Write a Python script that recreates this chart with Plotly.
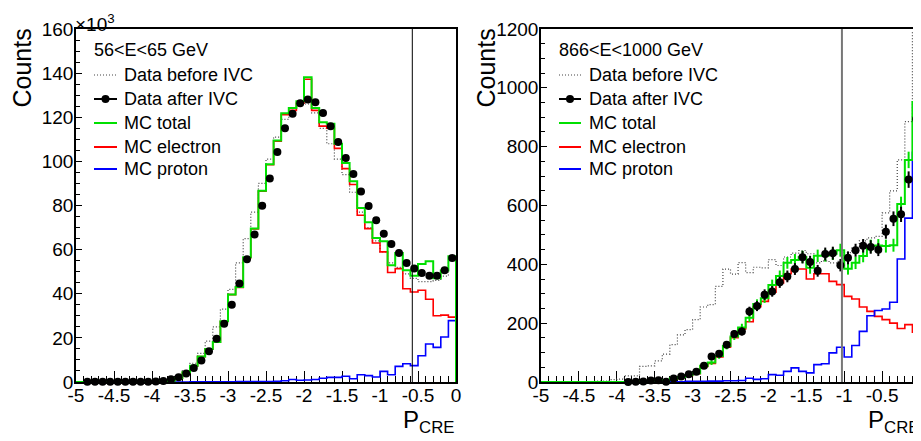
import numpy as np
import plotly.graph_objects as go

# The page body has an 8 px margin, so the figure is drawn 8 px smaller and all
# layout positions below are given in window pixels and shifted by that margin.
WIN_W, WIN_H, BODY = 921, 441, 8
W, H = WIN_W - BODY, WIN_H - BODY

# ---------------- binning ----------------
bin_lo, bin_w, n_bins = -5.0, 0.1, 50
x_tick_vals = [-5, -4.5, -4, -3.5, -3, -2.5, -2, -1.5, -1, -0.5, 0]
x_tick_text = ["-5", "-4.5", "-4", "-3.5", "-3", "-2.5", "-2", "-1.5", "-1", "-0.5", "0"]

# ---------------- left panel: 56<E<65 GeV (counts x 10^3) ----------------
left_label = "56&lt;E&lt;65 GeV"
left_before = [0, 0, 0, 0, 0, 0, 0, 0, 0, 0,
               0.3, 0.8, 1.5, 2.8, 5.2, 8.5, 13.0, 18.5, 25.0, 33.0,
               42.0, 54.0, 65.0, 77.0, 90.0, 101.0, 111.0, 119.0, 124.0, 126.0,
               126.0, 122.0, 115.0, 108.0, 101.0, 94.0, 86.0, 77.0, 70.0, 64.0,
               59.0, 54.0, 52.0, 49.0, 47.0, 45.5, 45.5, 46.0, 48.0, 55.0]
left_after = [None, 0.1, 0.1, 0.1, 0.1, 0.1, 0.1, 0.1, 0.1, 0.1,
              0.2, 0.5, 1.3, 2.1, 3.8, 6.3, 9.7, 13.9, 19.6, 26.4,
              35.0, 44.7, 55.6, 66.8, 79.9, 92.2, 104.2, 115.0, 121.6, 126.3,
              128.1, 126.8, 121.9, 115.9, 108.8, 101.5, 94.3, 86.3, 79.8, 73.3,
              67.2, 62.5, 58.5, 53.9, 51.5, 49.4, 48.2, 48.2, 50.6, 56.2]
left_mc_total = [0, 0, 0, 0, 0, 0, 0, 0, 0, 0,
                 0.1, 0.2, 0.6, 1.8, 4.4, 7.4, 11.6, 15.0, 18.1, 27.5,
                 39.7, 43.1, 56.5, 69.6, 86.7, 98.7, 109.5, 121.8, 124.2, 127.2,
                 138.1, 124.2, 117.7, 117.1, 108.0, 99.3, 91.0, 78.9, 72.4, 65.3,
                 63.8, 52.9, 58.5, 50.6, 48.2, 53.5, 54.7, 47.0, 50.5, 57.0]
left_mc_electron = [0, 0, 0, 0, 0, 0, 0, 0, 0, 0,
                    0.1, 0.2, 0.6, 1.8, 4.3, 7.3, 11.5, 14.9, 18.0, 27.4,
                    39.6, 42.9, 56.3, 69.4, 86.5, 98.5, 109.2, 121.2, 123.1, 126.4,
                    137.2, 123.1, 116.0, 115.0, 105.9, 96.7, 89.5, 75.6, 69.5, 63.0,
                    59.0, 49.6, 51.4, 42.3, 40.8, 41.6, 37.5, 30.0, 30.3, 29.4]
left_mc_proton = [0, 0, 0, 0, 0, 0, 0, 0, 0, 0,
                  0, 0, 0, 0, 0, 0.1, 0.1, 0.1, 0.1, 0.1,
                  0.1, 0.2, 0.2, 0.2, 0.2, 0.2, 0.3, 0.6, 1.1, 0.8,
                  0.9, 1.1, 1.7, 2.1, 2.1, 2.6, 1.5, 3.3, 2.9, 2.3,
                  4.8, 3.3, 7.1, 8.3, 7.4, 11.9, 17.2, 15.7, 20.4, 27.8]
left_cut = -0.575
left_y_ticks = [0, 20, 40, 60, 80, 100, 120, 140, 160]

# ---------------- right panel: 866<E<1000 GeV ----------------
right_label = "866&lt;E&lt;1000 GeV"
right_before = [0, 0, 0, 0, 0, 0, 0, 3, 3, 8,
                10, 21, 21, 53, 55, 72, 95, 127, 160, 178,
                212, 255, 263, 325, 384, 367, 406, 372, 390, 388,
                416, 396, 425, 438, 447, 436, 405, 412, 405, 410,
                440, 455, 480, 490, 495, 575, 650, 755, 885, 1190]
right_after = [None, None, None, None, None, None, None, None, None, None,
               None, 0, 1, 2, 5, 6, 1, 12, 19, 26,
               35, 55, 87, 96, 127, 163, 172, 240, 258, 297,
               308, 339, 359, 384, 424, 408, 378, 435, 438, 397,
               422, 448, 463, 459, 450, 511, 555, 570, 688, 894]
right_after_err = [0, 0, 0, 0, 0, 0, 0, 0, 0, 0,
                   0, 2, 2, 2, 3, 3, 2, 4, 5, 6,
                   7, 8, 10, 11, 12, 13, 14, 16, 17, 18,
                   18, 19, 20, 20, 21, 21, 20, 22, 22, 21,
                   22, 22, 23, 23, 22, 24, 25, 26, 28, 32]
right_mc_total = [0, 0, 0, 0, 0, 0, 0, 0, 0, 0,
                  0, 0, 1, 2, 4, 5, 7, 12, 17, 24,
                  30, 55, 66, 88, 122, 155, 185, 218, 265, 285,
                  330, 360, 405, 415, 425, 388, 429, 430, 436, 448,
                  385, 405, 428, 462, 464, 462, 465, 605, 755, 952]
right_mc_total_err = [0, 0, 0, 0, 0, 0, 0, 0, 0, 0,
                      0, 0, 1, 1, 2, 2, 2, 3, 4, 5,
                      5, 7, 8, 9, 11, 12, 13, 14, 16, 16,
                      18, 19, 20, 20, 21, 20, 21, 21, 21, 22,
                      20, 21, 21, 22, 22, 22, 22, 25, 28, 31]
right_mc_electron = [0, 0, 0, 0, 0, 0, 0, 0, 0, 0,
                     0, 0, 1, 2, 4, 5, 7, 11, 16, 22,
                     28, 53, 63, 85, 118, 151, 180, 205, 256, 274,
                     305, 337, 368, 384, 384, 350, 368, 368, 342, 331,
                     291, 282, 255, 240, 223, 212, 200, 182, 195, 169]
right_mc_proton = [0, 0, 0, 0, 0, 0, 0, 0, 0, 0,
                   0, 0, 0, 0, 0, 0, 0, 1, 1, 2,
                   2, 2, 3, 3, 4, 4, 5, 13, 9, 11,
                   25, 23, 36, 48, 36, 31, 59, 62, 99, 118,
                   85, 124, 172, 225, 243, 248, 271, 418, 557, 781]
right_cut = -1.03
right_y_ticks = [0, 200, 400, 600, 800, 1000, 1200]

legend_names = ["Data before IVC", "Data after IVC", "MC total", "MC electron", "MC proton"]

# ---------------- helpers ----------------
edges = np.round(bin_lo + bin_w * np.arange(n_bins + 1), 3)
centers = np.round(edges[:-1] + bin_w / 2, 3)

FONT = "Liberation Sans, Arial, Helvetica, sans-serif"
GREEN, RED, BLUE = "#00e000", "#ff0000", "#0000ff"
DOT = "#444444"
DOTDASH = "1px,2px"


def px(x):
    return (x - BODY) / W


def py(y):
    return 1 - (y - BODY) / H


def step_xy(vals):
    xs = [edges[0]] + list(edges[:-1]) + [edges[-1], edges[-1]]
    ys = [0.0] + list(vals) + [vals[-1], 0.0]
    return xs, ys


fig = go.Figure()


def add_panel(ax, before, after, after_err, total, total_err, electron, proton):
    xa, ya = ("x", "y") if ax == 1 else ("x2", "y2")
    sx, sy = step_xy(before)
    fig.add_trace(go.Scatter(x=sx, y=sy, mode="lines", line=dict(color=DOT, width=1.2, dash=DOTDASH, shape="hv"),
                             xaxis=xa, yaxis=ya, showlegend=False, cliponaxis=False, hoverinfo="skip"))
    sx, sy = step_xy(electron)
    fig.add_trace(go.Scatter(x=sx, y=sy, mode="lines", line=dict(color=RED, width=1.6, shape="hv"),
                             xaxis=xa, yaxis=ya, showlegend=False, cliponaxis=False, hoverinfo="skip"))
    sx, sy = step_xy(proton)
    fig.add_trace(go.Scatter(x=sx, y=sy, mode="lines", line=dict(color=BLUE, width=1.6, shape="hv"),
                             xaxis=xa, yaxis=ya, showlegend=False, cliponaxis=False, hoverinfo="skip"))
    sx, sy = step_xy(total)
    fig.add_trace(go.Scatter(x=sx, y=sy, mode="lines", line=dict(color=GREEN, width=2, shape="hv"),
                             xaxis=xa, yaxis=ya, showlegend=False, cliponaxis=False, hoverinfo="skip"))
    if total_err is not None:
        tv = [t if t > 0 else None for t in total]
        fig.add_trace(go.Scatter(x=centers, y=tv, mode="markers", marker=dict(size=1, color=GREEN, opacity=0),
                                 error_y=dict(type="data", array=total_err, color=GREEN, thickness=2, width=0),
                                 xaxis=xa, yaxis=ya, showlegend=False, hoverinfo="skip"))
    ed = None
    if after_err is not None:
        ed = dict(type="data", array=after_err, color="black", thickness=2, width=0)
    fig.add_trace(go.Scatter(x=centers, y=after, mode="markers", marker=dict(size=8, color="black"),
                             error_y=ed, xaxis=xa, yaxis=ya, showlegend=False, cliponaxis=False))


add_panel(1, left_before, left_after, None, left_mc_total, None, left_mc_electron, left_mc_proton)
add_panel(2, right_before, right_after, right_after_err, right_mc_total, right_mc_total_err,
          right_mc_electron, right_mc_proton)

y_dom = [py(382), py(29)]
common_x = dict(range=[-5, 0], showline=True, mirror=True, linecolor="black", linewidth=1.5,
                ticks="inside", ticklen=11, tickwidth=1, tickcolor="black", automargin=False,
                tickvals=x_tick_vals, ticktext=x_tick_text, showgrid=False, zeroline=False,
                tickfont=dict(family=FONT, size=19, color="black"), layer="below traces",
                ticklabelstandoff=-5,
                minor=dict(ticks="inside", ticklen=6, tickwidth=1, tickcolor="black",
                           tickvals=list(np.round(np.arange(-5, 0.001, 0.1), 2)), showgrid=False))


def yaxis_cfg(rng, tv, minor_step):
    return dict(range=rng, domain=y_dom, showline=True, mirror=True, linecolor="black", linewidth=1.5,
                ticks="inside", ticklen=6, tickwidth=1, tickcolor="black", tickvals=tv, automargin=False,
                ticktext=[str(v) for v in tv], showgrid=False, zeroline=False,
                tickfont=dict(family=FONT, size=19, color="black"), layer="below traces",
                ticklabelstandoff=-3,
                minor=dict(ticks="inside", ticklen=4, tickwidth=1, tickcolor="black",
                           dtick=minor_step, showgrid=False))


fig.update_layout(
    width=W, height=H, margin=dict(l=0, r=0, t=0, b=0, autoexpand=False),
    paper_bgcolor="white", plot_bgcolor="white", showlegend=False,
    xaxis=dict(domain=[px(76), px(456)], anchor="y", **common_x),
    yaxis=dict(anchor="x", **yaxis_cfg([0, 160], left_y_ticks, 5)),
    xaxis2=dict(domain=[px(541), min(1.0, px(920))], anchor="y2", **common_x),
    yaxis2=dict(anchor="x2", **yaxis_cfg([0, 1200], right_y_ticks, 50)),
)

shapes = []
annotations = []

# cut lines
shapes.append(dict(type="line", xref="x", yref="y domain", x0=left_cut, x1=left_cut, y0=0, y1=1,
                   line=dict(color="black", width=1)))
shapes.append(dict(type="line", xref="x2", yref="y2 domain", x0=right_cut, x1=right_cut, y0=0, y1=1,
                   line=dict(color="#777777", width=2)))


def legend(x_head, x_sym0, x_sym1, x_text, head):
    annotations.append(dict(text=head, x=px(x_head), y=py(50), xref="paper", yref="paper",
                            xanchor="left", yanchor="middle", showarrow=False,
                            font=dict(family=FONT, size=18, color="black")))
    ys = [75, 99, 123, 147, 169]
    styles = [dict(color=DOT, width=1.2, dash=DOTDASH), dict(color="black", width=2),
              dict(color=GREEN, width=2), dict(color=RED, width=2), dict(color=BLUE, width=2)]
    for name, yy, st in zip(legend_names, ys, styles):
        shapes.append(dict(type="line", xref="paper", yref="paper", x0=px(x_sym0), x1=px(x_sym1),
                           y0=py(yy), y1=py(yy), line=st))
        annotations.append(dict(text=name, x=px(x_text), y=py(yy), xref="paper", yref="paper",
                                xanchor="left", yanchor="middle", showarrow=False,
                                font=dict(family=FONT, size=18, color="black")))
    cx = (x_sym0 + x_sym1) / 2
    shapes.append(dict(type="circle", xref="paper", yref="paper", x0=px(cx - 4), x1=px(cx + 4),
                       y0=py(99 + 4), y1=py(99 - 4), fillcolor="black", line=dict(color="black", width=0)))


legend(92, 94, 117, 122, left_label)
legend(557, 559, 581, 587, right_label)

for cx in (21, 485):
    annotations.append(dict(text="Counts", x=px(cx), y=py(27), xref="paper", yref="paper",
                            xanchor="center", yanchor="top", textangle=-90, showarrow=False,
                            font=dict(family=FONT, size=25, color="black")))
for xr in (456, 921):
    annotations.append(dict(text="P<sub>CRE</sub>", x=px(xr), y=py(404), xref="paper", yref="paper",
                            xanchor="right", yanchor="top", showarrow=False,
                            font=dict(family=FONT, size=24, color="black")))
annotations.append(dict(text="×10<sup>3</sup>", x=px(73), y=py(9), xref="paper", yref="paper",
                        xanchor="left", yanchor="top", showarrow=False,
                        font=dict(family=FONT, size=19, color="black")))

fig.update_layout(shapes=shapes, annotations=annotations)
fig.write_html("out.html")
